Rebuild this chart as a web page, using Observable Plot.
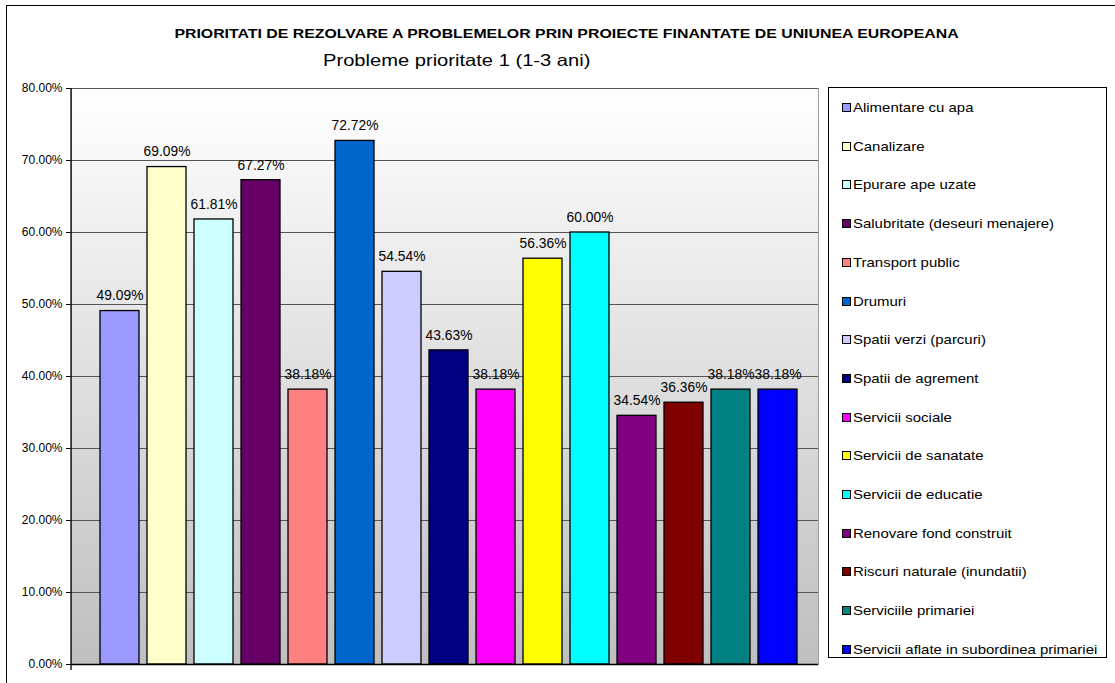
<!DOCTYPE html>
<html>
<head>
<meta charset="utf-8">
<script src="https://cdn.jsdelivr.net/npm/d3@7"></script>
<script src="https://cdn.jsdelivr.net/npm/@observablehq/plot@0.6"></script>
<style>
  html, body { margin: 0; padding: 0; background: #fff; overflow: hidden; }
  #wrap { position: relative; width: 1115px; height: 683px; overflow: hidden;
          font-family: Arial, "Liberation Sans", sans-serif; color: #000; }
  #outer { position: absolute; left: 6px; top: 5px; width: 1200px; height: 800px;
           border: 1.5px solid #000; }
  #title { position: absolute; left: 0; top: 27px; width: 1133px; text-align: center;
           font-weight: bold; font-size: 13px; line-height: 13px; white-space: nowrap;
           transform: scaleX(1.22); transform-origin: 566.5px 0; }
  #subtitle { position: absolute; left: 323px; top: 52px; font-size: 16.5px; line-height: 17px;
              white-space: nowrap; transform: scaleX(1.22); transform-origin: 0 0; }
  #plot { position: absolute; left: 0; top: 0; }
  #legend { position: absolute; left: 828px; top: 87px; width: 279px; height: 571px;
            border: 1px solid #000; background: #fff; box-sizing: border-box; }
  .entry { position: absolute; left: 13px; height: 20px; display: flex; align-items: center;
           font-size: 13px; white-space: nowrap; }
  .entry span { display: inline-block; transform: scaleX(1.15); transform-origin: 0 50%; }
  .sw { width: 7px; height: 7px; border: 1px solid #000; margin-right: 2px; flex: none; }
</style>
</head>
<body>
<div id="wrap">
  <div id="outer"></div>
  <div id="plot"></div>
  <div id="title"></div>
  <div id="subtitle"></div>
  <div id="legend"></div>
</div>
<script>
const titleText = "PRIORITATI DE REZOLVARE A PROBLEMELOR PRIN PROIECTE FINANTATE DE UNIUNEA EUROPEANA";
const subtitleText = "Probleme prioritate 1 (1-3 ani)";

const categories = [
  "Alimentare cu apa",
  "Canalizare",
  "Epurare ape uzate",
  "Salubritate (deseuri menajere)",
  "Transport public",
  "Drumuri",
  "Spatii verzi (parcuri)",
  "Spatii de agrement",
  "Servicii sociale",
  "Servicii de sanatate",
  "Servicii de educatie",
  "Renovare fond construit",
  "Riscuri naturale (inundatii)",
  "Serviciile primariei",
  "Servicii aflate in subordinea primariei"
];
const values = [0.4909, 0.6909, 0.6181, 0.6727, 0.3818, 0.7272, 0.5454, 0.4363,
                0.3818, 0.5636, 0.6000, 0.3454, 0.3636, 0.3818, 0.3818];
const colors = ["#9999FF", "#FFFFCC", "#CCFFFF", "#660066", "#FF8080", "#0066CC",
                "#CCCCFF", "#000080", "#FF00FF", "#FFFF00", "#00FFFF", "#800080",
                "#800000", "#008080", "#0000FF"];
const yTicks = [0, 0.1, 0.2, 0.3, 0.4, 0.5, 0.6, 0.7, 0.8];

const data = categories.map((name, i) => ({name, value: values[i]}));
const pct = d3.format(".2%");

document.getElementById("title").textContent = titleText;
document.getElementById("subtitle").textContent = subtitleText;

function gradientDefs() {
  const defs = d3.create("svg:defs");
  const g = defs.append("linearGradient").attr("id", "plotBg")
    .attr("x1", 0).attr("y1", 0).attr("x2", 0).attr("y2", 1);
  g.append("stop").attr("offset", "0%").attr("stop-color", "#ffffff");
  g.append("stop").attr("offset", "100%").attr("stop-color", "#bfbfbf");
  return defs.node();
}

function leftAxisLine(index, scales, values, dimensions) {
  const x = dimensions.marginLeft;
  const yTop = scales.y(yTicks[yTicks.length - 1]);
  const yBot = scales.y(0) + 6;
  const line = d3.create("svg:line")
    .attr("x1", x).attr("x2", x).attr("y1", yTop).attr("y2", yBot)
    .attr("stroke", "#000").attr("stroke-width", 1.3);
  return line.node();
}

const chart = Plot.plot({
  width: 835,
  height: 683,
  marginLeft: 71,
  marginRight: 17,
  marginTop: 88,
  marginBottom: 19,
  style: {fontFamily: "Arial, 'Liberation Sans', sans-serif", background: "transparent", color: "#000"},
  x: {domain: categories, paddingInner: 0.165, paddingOuter: 0.0825, insetLeft: 25, insetRight: 17, axis: null},
  y: {domain: [0, 0.8], axis: null},
  color: {domain: categories, range: colors},
  marks: [
    gradientDefs,
    Plot.frame({fill: "url(#plotBg)", stroke: "#9a9a9a"}),
    Plot.gridY(yTicks, {stroke: "#555", strokeOpacity: 1, strokeWidth: 1}),
    Plot.barY(data, {x: "name", y: "value", fill: "name", stroke: "#000", strokeWidth: 1.3}),
    Plot.ruleY([0], {stroke: "#000", strokeWidth: 1.3}),
    leftAxisLine,
    Plot.axisY(yTicks, {anchor: "left", label: null, tickFormat: pct, tickSize: 5, tickPadding: 4, fontSize: 12, stroke: "#000"}),
    Plot.text(data, {x: "name", y: "value", text: d => pct(d.value), dy: -15, fontSize: 13.8, fill: "#000"})
  ]
});
document.getElementById("plot").appendChild(chart);

const legend = document.getElementById("legend");
categories.forEach((name, i) => {
  const e = document.createElement("div");
  e.className = "entry";
  e.style.top = (9.5 + i * 38.7) + "px";
  const sw = document.createElement("div");
  sw.className = "sw";
  sw.style.background = colors[i];
  const t = document.createElement("span");
  t.textContent = name;
  e.appendChild(sw);
  e.appendChild(t);
  legend.appendChild(e);
});
</script>
</body>
</html>
